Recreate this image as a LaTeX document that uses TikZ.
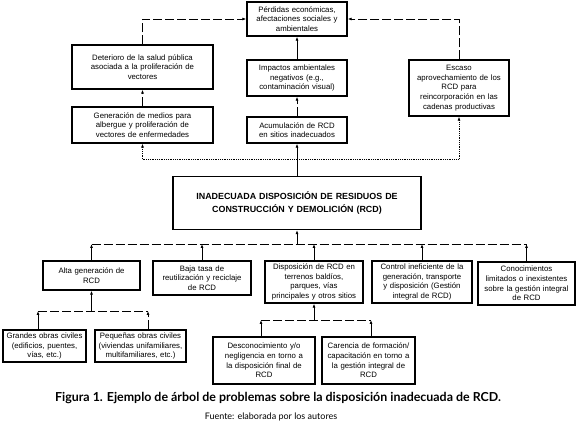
\documentclass[tikz,border=0pt]{standalone}
\usepackage{fontspec}
\setmainfont{Liberation Sans}
\newfontfamily\capfont{Lato}
\usetikzlibrary{arrows.meta}
\tikzset{
  box/.style={draw=black, line width=1.4pt, rectangle, align=center, inner sep=1pt,
    font=\fontsize{7.8}{9.6}\selectfont, fill=white},
  conn/.style={line width=0.75pt, draw=black},
  tip/.style={-{Latex[length=4pt,width=3pt]}},
  dashline/.style={conn, dash pattern=on 9pt off 3pt},
  dotline/.style={conn, line width=0.7pt, dash pattern=on 0.8pt off 1pt},
}
\newcommand{\bx}[7]{% name, x1, y1, x2, y2, text width, text
  \node[box, minimum width={#4-#2}, minimum height={#5-#3}, text width={#6}]
    (#1) at ({(#2+#4)/2},{(#3+#5)/2}) {#7};}
\begin{document}
\begin{tikzpicture}[x=1pt,y=-1pt]
\useasboundingbox (0,0) rectangle (579,427);
% top section
\bx{per}{247}{2}{347}{36}{96pt}{Pérdidas económicas,\\ afectaciones sociales y\\ ambientales}
\bx{det}{72}{45}{213}{89}{136pt}{Deterioro de la salud pública\\ asociada a la proliferación de\\ vectores}
\bx{gen}{72}{107}{213}{143}{136pt}{Generación de medios para\\ albergue y proliferación de\\ vectores de enfermedades}
\bx{imp}{247}{60}{347}{96}{96pt}{Impactos ambientales\\ negativos (e.g.,\\ contaminación visual)}
\bx{acu}{247}{117}{347}{143}{96pt}{Acumulación de RCD\\ en sitios inadecuados}
\bx{esc}{409}{60}{509}{116}{96pt}{Escaso\\ aprovechamiento de los\\ RCD para\\ reincorporación en las\\ cadenas productivas}
% main
\node[box, minimum width=248pt, minimum height=53pt, text width=244pt,
  font=\fontsize{8.9}{12.5}\selectfont\bfseries] (main) at (297,203)
  {INADECUADA DISPOSICIÓN DE RESIDUOS DE\\ CONSTRUCCIÓN Y DEMOLICIÓN (RCD)};
% level 2
\bx{alta}{43}{261}{140}{290}{93pt}{Alta generación de\\ RCD}
\bx{baja}{153}{261}{251}{295}{94pt}{Baja tasa de\\ reutilización y reciclaje\\ de RCD}
\bx{disp}{265}{261}{363}{303}{96pt}{Disposición de RCD en\\ terrenos baldíos,\\ parques, vías\\ principales y otros sitios}
\bx{ctrl}{372}{261}{472}{303}{96pt}{Control ineficiente de la\\ generación, transporte\\ y disposición (Gestión\\ integral de RCD)}
\bx{cono}{478}{262}{575}{305}{95pt}{Conocimientos\\ limitados o inexistentes\\ sobre la gestión integral\\ de RCD}
% level 3
\bx{gran}{3}{330}{86}{362}{81pt}{Grandes obras civiles\\ (edificios, puentes,\\ vías, etc.)}
\bx{peq}{95}{330}{186}{362}{89pt}{Pequeñas obras civiles\\ (viviendas unifamiliares,\\ multifamiliares, etc.)}
\bx{desc}{213}{337}{315}{384}{98pt}{Desconocimiento y/o\\ negligencia en torno a\\ la disposición final de\\ RCD}
\bx{car}{322}{337}{415}{384}{91pt}{Carencia de formación/\\ capacitación en torno a\\ la gestión integral de\\ RCD}
% top connectors
\draw[dashline,tip] (det.north) |- (per.west);
\draw[dashline,tip] (esc.north) |- (per.east);
\draw[conn,tip] (imp.north) -- (per.south);
\draw[dashline,tip] (acu.north) -- (imp.south);
\draw[dashline,tip] (gen.north) -- (det.south);
\draw[conn,tip] (main.north) -- (acu.south);
\coordinate (jl) at (142.5,159);
\coordinate (jr) at (459,159);
\draw[dotline] (jl) -- (jr);
\draw[dotline,tip] (jl) -- (gen.south);
\draw[dotline,tip] (jr) -- (esc.south);
% bottom connectors
\coordinate (bl) at (91.5,244);
\coordinate (br) at (526.5,244);
\draw[dashline] (bl) -- (br);
\draw[conn,tip] (main.south |- bl) -- (main.south);
\foreach \n in {alta,baja,disp,ctrl,cono}{
  \draw[conn,tip] (\n.north) -- (\n.north |- bl);
}
% Alta sub-causes
\coordinate (a1) at (38,311);
\coordinate (a2) at (148,311);
\draw[dashline] (a1) -- (a2);
\draw[conn,tip] (alta.south |- a1) -- (alta.south);
\draw[conn,tip] (a1 |- gran.north) -- (a1);
\draw[dashline,tip] (a2 |- peq.north) -- (a2);
% Disposicion sub-causes
\coordinate (d1) at (261,320);
\coordinate (d2) at (371,320);
\draw[dashline] (d1) -- (d2);
\draw[conn,tip] (disp.south |- d1) -- (disp.south);
\draw[conn,tip] (d1 |- desc.north) -- (d1);
\draw[conn,tip] (d2 |- car.north) -- (d2);
% caption
\node[font=\capfont\bfseries\fontsize{12.4}{14}\selectfont, inner sep=0pt] (cap) at (278,398)
  {Figura 1. Ejemplo de árbol de problemas sobre la disposición inadecuada de RCD.};
\node[font=\capfont\fontsize{9}{10}\selectfont, inner sep=0pt] (src) at (271,417)
  {Fuente: elaborada por los autores};
\end{tikzpicture}
\end{document}
